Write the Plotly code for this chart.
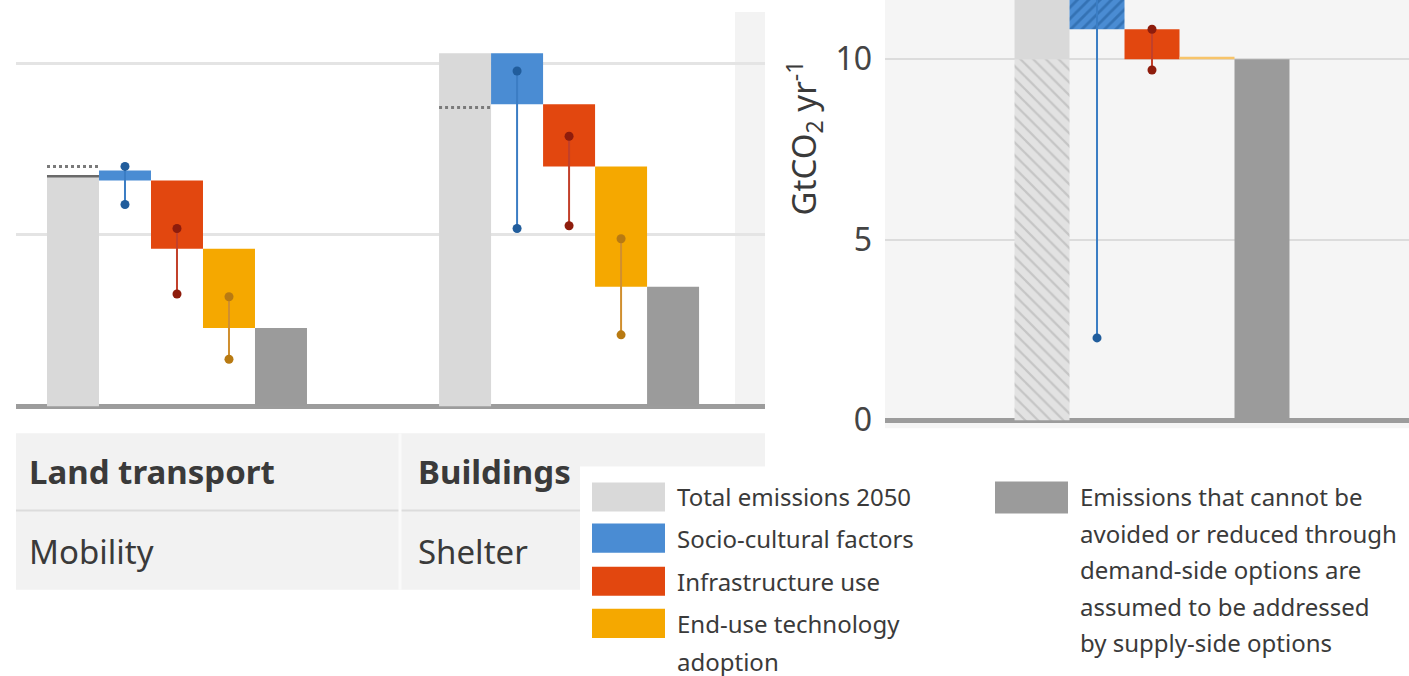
import plotly.graph_objects as go

W = 1409
TARGET_H = 676           # height of the picture we lay things out in
FIG_H = 692              # the page is photographed with a vertical squeeze of ~676/692

# ---------------- data (GtCO2 / yr) ----------------
steps = ["Total emissions 2050", "Socio-cultural factors", "Infrastructure use",
         "End-use technology adoption", "Remaining emissions"]

# Land transport (Mobility)
lt_base = [0, 6.58, 4.59, 2.28, 0]
lt_top = [6.70, 6.87, 6.58, 4.59, 2.28]
lt_hi = [None, 6.99, 5.18, 3.19, None]
lt_lo = [None, 5.88, 3.27, 1.37, None]
lt_dotted = 6.99

# Buildings (Shelter)
bd_base = [0, 8.80, 6.99, 3.48, 0]
bd_top = [10.29, 10.29, 8.80, 6.99, 3.48]
bd_hi = [None, 9.77, 7.87, 4.88, None]
bd_lo = [None, 5.18, 5.26, 2.08, None]
bd_dotted = 8.71

# right-hand sector (zoomed)
rp_base = [0, 10.83, 10.0, 10.0, 0]
rp_top = [13.0, 13.0, 10.83, 10.07, 10.0]
rp_hatched_top = 10.0
rp_hi = [None, 12.8, 10.83, None, None]
rp_lo = [None, 2.28, 9.70, None, None]

sectors = ["Land transport", "Buildings"]
services = ["Mobility", "Shelter"]
group_offsets = [0, 7.54]
y_ticks = [0, 5, 10]
y_ticktext = ["0", "5", "10"]

legend_left = ["Total emissions 2050", "Socio-cultural factors", "Infrastructure use",
               "End-use technology", "adoption"]
legend_right = ["Emissions that cannot be", "avoided or reduced through",
                "demand-side options are", "assumed to be addressed",
                "by supply-side options"]

fills = ["#d9d9d9", "#4a8cd3", "#e2470f", "#f5a800", "#9b9b9b"]
dot_cols = [None, "#215d9c", "#8e1c0c", "#b87a12", None]
stem_cols = [None, "#3b7dc4", "#c2402a", "#d08f2f", None]

FONT = "Noto Sans"
TXT = "#3a3a3a"


def px(x):
    return x / W


def py(y):
    return 1 - y / TARGET_H


fig = go.Figure()


def add_panel(base, top, hi, lo, offset, xa, ya):
    xs = [offset + i for i in range(len(steps))]
    for i in range(len(steps)):
        fig.add_trace(go.Bar(x=[xs[i]], y=[top[i] - base[i]], base=[base[i]], width=1,
                             marker=dict(color=fills[i], line=dict(width=0)),
                             xaxis=xa, yaxis=ya, showlegend=False, hoverinfo="skip"))
    for i in range(len(steps)):
        if hi[i] is None or lo[i] is None:
            continue
        fig.add_trace(go.Scatter(x=[xs[i], xs[i]], y=[lo[i], hi[i]], mode="lines+markers",
                                 line=dict(color=stem_cols[i], width=2),
                                 marker=dict(color=dot_cols[i], size=9),
                                 xaxis=xa, yaxis=ya, showlegend=False, hoverinfo="skip"))
    return xs


xs_lt = add_panel(lt_base, lt_top, lt_hi, lt_lo, group_offsets[0], "x", "y")
xs_bd = add_panel(bd_base, bd_top, bd_hi, bd_lo, group_offsets[1], "x", "y")

fig.add_trace(go.Scatter(x=[xs_lt[0] - 0.5, xs_lt[0] + 0.5], y=[lt_top[0], lt_top[0]],
                         mode="lines", line=dict(color="#6a6a6a", width=2.5),
                         showlegend=False, hoverinfo="skip"))
for xs0, v in [(xs_lt[0], lt_dotted), (xs_bd[0], bd_dotted)]:
    fig.add_trace(go.Scatter(x=[xs0 - 0.5, xs0 + 0.5], y=[v, v], mode="lines",
                             line=dict(color="#7a7a7a", width=3, dash="dot"),
                             showlegend=False, hoverinfo="skip"))

rx = [i for i in range(len(steps))]
fig.add_trace(go.Bar(x=[rx[0]], y=[rp_hatched_top], base=[0], width=1,
                     marker=dict(color="#e0e0e0", line=dict(width=0),
                                 pattern=dict(shape="\\", fgcolor="#a8a8a8", bgcolor="#e2e2e2",
                                              size=9, solidity=0.25)),
                     xaxis="x2", yaxis="y2", showlegend=False, hoverinfo="skip"))
fig.add_trace(go.Bar(x=[rx[0]], y=[rp_top[0] - rp_hatched_top], base=[rp_hatched_top], width=1,
                     marker=dict(color=fills[0], line=dict(width=0)),
                     xaxis="x2", yaxis="y2", showlegend=False, hoverinfo="skip"))
fig.add_trace(go.Bar(x=[rx[1]], y=[rp_top[1] - rp_base[1]], base=[rp_base[1]], width=1,
                     marker=dict(color=fills[1], line=dict(width=0),
                                 pattern=dict(shape="/", fgcolor="#1d5896", bgcolor=fills[1],
                                              size=8, solidity=0.35)),
                     xaxis="x2", yaxis="y2", showlegend=False, hoverinfo="skip"))
for i in [2, 4]:
    fig.add_trace(go.Bar(x=[rx[i]], y=[rp_top[i] - rp_base[i]], base=[rp_base[i]], width=1,
                         marker=dict(color=fills[i], line=dict(width=0)),
                         xaxis="x2", yaxis="y2", showlegend=False, hoverinfo="skip"))
fig.add_trace(go.Bar(x=[rx[3]], y=[rp_top[3] - rp_base[3]], base=[rp_base[3]], width=1,
                     marker=dict(color="#f7c46a", line=dict(width=0)),
                     xaxis="x2", yaxis="y2", showlegend=False, hoverinfo="skip"))
for i in range(len(steps)):
    if rp_hi[i] is None or rp_lo[i] is None:
        continue
    fig.add_trace(go.Scatter(x=[rx[i], rx[i]], y=[rp_lo[i], rp_hi[i]], mode="lines+markers",
                             line=dict(color=stem_cols[i], width=2),
                             marker=dict(color=dot_cols[i], size=9),
                             xaxis="x2", yaxis="y2", showlegend=False, hoverinfo="skip"))

shapes = []
shapes.append(dict(type="rect", xref="paper", yref="paper", x0=px(885), x1=1, y0=py(427), y1=1,
                   fillcolor="#f5f5f5", line=dict(width=0), layer="below"))
shapes.append(dict(type="rect", xref="paper", yref="paper", x0=px(735), x1=px(765), y0=py(405),
                   y1=py(12), fillcolor="#f3f3f3", line=dict(width=0), layer="below"))
shapes.append(dict(type="rect", xref="paper", yref="paper", x0=px(16), x1=px(765), y0=py(588),
                   y1=py(432), fillcolor="#f2f2f2", line=dict(width=0), layer="below"))
shapes.append(dict(type="line", xref="paper", yref="paper", x0=px(16), x1=px(765), y0=py(509),
                   y1=py(509), line=dict(color="#dcdcdc", width=2), layer="below"))
shapes.append(dict(type="line", xref="paper", yref="paper", x0=px(400), x1=px(400), y0=py(588),
                   y1=py(432), line=dict(color="#fafafa", width=3), layer="below"))
shapes.append(dict(type="rect", xref="paper", yref="paper", x0=px(580), x1=1, y0=0, y1=py(465),
                   fillcolor="white", line=dict(width=0), layer="below"))
sw_tops = [481, 522, 565, 607]
for i, t in enumerate(sw_tops):
    shapes.append(dict(type="rect", xref="paper", yref="paper", x0=px(592), x1=px(665),
                       y0=py(t + 29), y1=py(t), fillcolor=fills[i], line=dict(width=0)))
shapes.append(dict(type="rect", xref="paper", yref="paper", x0=px(995), x1=px(1068),
                   y0=py(512), y1=py(480), fillcolor=fills[4], line=dict(width=0)))

ann = []
for k, name in enumerate(sectors):
    ann.append(dict(text="<b>%s</b>" % name, x=px([27, 416][k]), y=py(470), xref="paper",
                    yref="paper", xanchor="left", yanchor="middle", showarrow=False,
                    font=dict(family=FONT, size=33, color=TXT)))
    ann.append(dict(text=services[k], x=px([27, 416][k]), y=py(550), xref="paper",
                    yref="paper", xanchor="left", yanchor="middle", showarrow=False,
                    font=dict(family=FONT, size=33, color=TXT)))
for t, yy in zip(legend_left, [495, 537, 580, 622, 660]):
    ann.append(dict(text=t, x=px(675), y=py(yy), xref="paper", yref="paper", xanchor="left",
                    yanchor="middle", showarrow=False, font=dict(family=FONT, size=24, color=TXT)))
for t, yy in zip(legend_right, [495, 532, 568, 605, 641]):
    ann.append(dict(text=t, x=px(1078), y=py(yy), xref="paper", yref="paper", xanchor="left",
                    yanchor="middle", showarrow=False, font=dict(family=FONT, size=24, color=TXT)))
ann.append(dict(text="GtCO<sub>2</sub> yr<sup>-1</sup>", x=px(804), y=py(138), xref="paper",
                yref="paper", xanchor="center", yanchor="middle", textangle=-90, showarrow=False,
                font=dict(family=FONT, size=33, color=TXT)))

fig.update_layout(
    width=W, height=FIG_H, autosize=False,
    margin=dict(l=0, r=0, t=0, b=0),
    paper_bgcolor="white", plot_bgcolor="rgba(0,0,0,0)",
    barmode="overlay", showlegend=False,
    shapes=shapes, annotations=ann,
    xaxis=dict(domain=[px(16), px(765)], range=[-1.096, 13.308], visible=False),
    yaxis=dict(domain=[py(410), py(12)], range=[-0.146, 11.49], tickvals=[5, 10],
               showticklabels=False, showgrid=True, gridcolor="#e4e4e4", gridwidth=3,
               zeroline=True, zerolinecolor="#9c9c9c", zerolinewidth=5, ticks="",
               showline=False),
    xaxis2=dict(domain=[px(885), 1], range=[-2.855, 6.673], visible=False, anchor="y2"),
    yaxis2=dict(domain=[py(425), 1], range=[-0.167, 11.64], anchor="x2", tickvals=y_ticks,
                ticktext=y_ticktext, tickfont=dict(family=FONT, size=32, color="#444"),
                showgrid=True, gridcolor="#dcdcdc", gridwidth=2, zeroline=True,
                zerolinecolor="#9c9c9c", zerolinewidth=5, ticks="", ticklabelstandoff=12,
                showline=False),
)

fig.write_html("out.html")
